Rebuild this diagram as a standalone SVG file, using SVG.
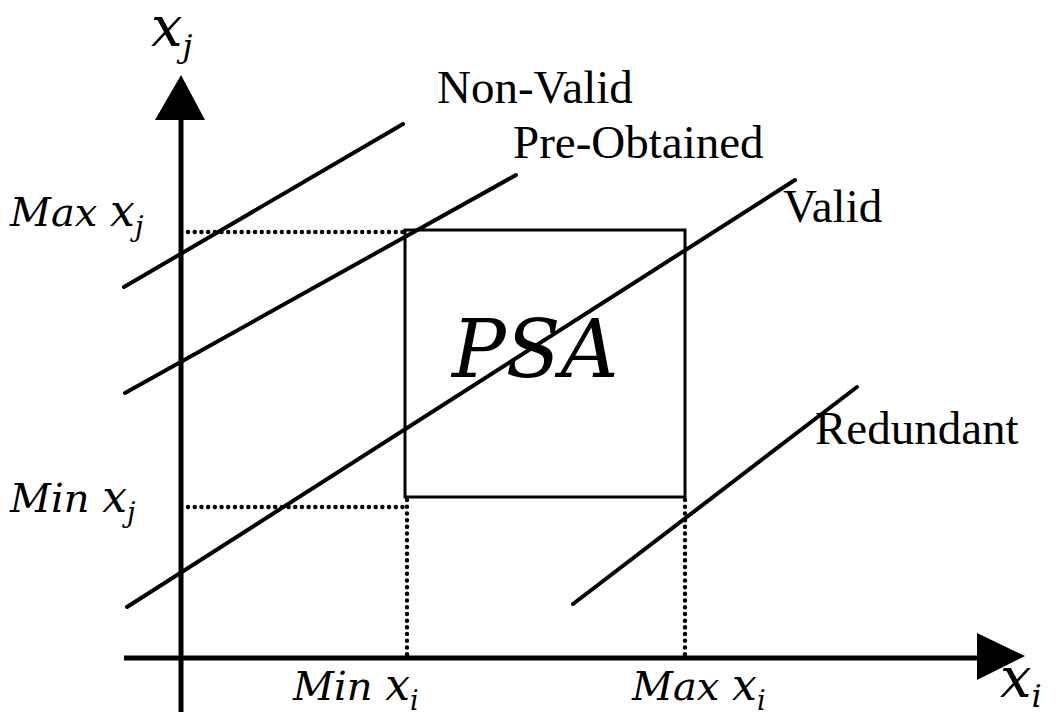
<svg xmlns="http://www.w3.org/2000/svg" width="1056" height="718" viewBox="0 0 1056 718">
  <style>
    .axis { stroke: #000; stroke-width: 5; fill: none; }
    .line { stroke: #000; stroke-width: 4; fill: none; stroke-linecap: round; }
    .dot { stroke: #000; stroke-width: 4.4; fill: none; stroke-linecap: round; stroke-dasharray: 0.1 6.6; }
    .box { stroke: #000; stroke-width: 3; fill: none; }
    .lbl { font-family: "Liberation Serif", "Times New Roman", serif; font-size: 47px; fill: #000; }
    .math { font-family: "DejaVu Serif", serif; font-style: italic; font-size: 40px; fill: #000; }
    .sub { font-size: 27px; }
  </style>
  <rect width="1056" height="718" fill="#fff"/>

  <!-- axes with filled arrowheads -->
  <g id="axes">
    <line class="axis" x1="181" y1="116" x2="181" y2="712"/>
    <polygon points="181,75 155,120 205,120" fill="#000"/>
    <line class="axis" x1="124" y1="658" x2="980" y2="658"/>
    <polygon points="1025,656 977,633 977,680" fill="#000"/>
    <text class="math" x="151" y="46" style="font-size:56px">x<tspan dy="11" style="font-size:32px">j</tspan></text>
    <text class="math" x="1000" y="697" style="font-size:56px">x<tspan dy="10" style="font-size:32px">i</tspan></text>
  </g>

  <!-- projection guides from the PSA box to the axes -->
  <g id="guides">
    <line class="dot" x1="188" y1="232" x2="405" y2="232"/>
    <line class="dot" x1="188" y1="507" x2="407" y2="507"/>
    <line class="dot" x1="407" y1="500" x2="407" y2="655"/>
    <line class="dot" x1="685" y1="500" x2="685" y2="655"/>
  </g>

  <!-- axis bound labels -->
  <g id="bounds">
    <text class="math" x="10" y="226">Max <tspan style="font-size:44px">x</tspan><tspan class="sub" dy="10">j</tspan></text>
    <text class="math" x="10" y="512">Min <tspan style="font-size:44px">x</tspan><tspan class="sub" dy="10">j</tspan></text>
    <text class="math" x="293" y="700">Min <tspan style="font-size:44px">x</tspan><tspan class="sub" dy="10">i</tspan></text>
    <text class="math" x="632" y="700">Max <tspan style="font-size:44px">x</tspan><tspan class="sub" dy="10">i</tspan></text>
  </g>

  <!-- parameter search area -->
  <g id="psa">
    <rect class="box" x="405" y="230" width="280" height="267"/>
    <text class="math" x="452" y="377" style="font-size:80px">PSA</text>
  </g>

  <!-- constraint lines -->
  <g id="connectors">
    <line class="line" x1="124" y1="287" x2="403" y2="124"/>
    <line class="line" x1="125" y1="393" x2="516" y2="175"/>
    <line class="line" x1="127" y1="607" x2="795" y2="180"/>
    <line class="line" x1="573" y1="604" x2="857" y2="387"/>
  </g>

  <g id="non-valid"><text class="lbl" x="437" y="103">Non-Valid</text></g>
  <g id="pre-obtained"><text class="lbl" x="513" y="158">Pre-Obtained</text></g>
  <g id="valid"><text class="lbl" x="783" y="222">Valid</text></g>
  <g id="redundant"><text class="lbl" x="815" y="444">Redundant</text></g>
</svg>
